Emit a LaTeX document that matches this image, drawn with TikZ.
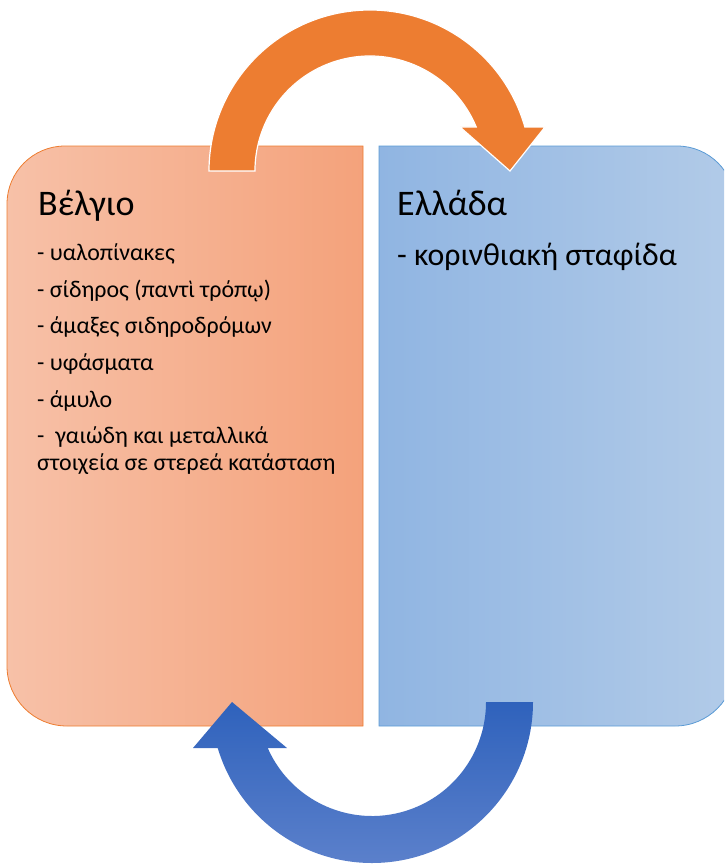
\documentclass[tikz,border=0pt]{standalone}
\usepackage{fontspec}
\setmainfont{Carlito}
\definecolor{boxorange}{HTML}{ED7D31}
\definecolor{orangeleft}{HTML}{F7C1A8}
\definecolor{orangeright}{HTML}{F4A27B}
\definecolor{boxblue}{HTML}{5B9BD5}
\definecolor{blueleft}{HTML}{90B5E2}
\definecolor{blueright}{HTML}{B2CBE8}
\definecolor{arrowblue}{HTML}{2F62BC}
\definecolor{arrowbluelight}{HTML}{5B80CB}

\begin{document}
\begin{tikzpicture}[x=1pt, y=-1pt,
    heading/.style={anchor=base west, inner sep=0pt, font=\fontsize{36}{43}\selectfont},
    item/.style={anchor=base west, inner sep=0pt, font=\fontsize{23.9}{27}\selectfont},
    bigitem/.style={anchor=base west, inner sep=0pt, font=\fontsize{31.8}{38}\selectfont}]
    \useasboundingbox (0,0) rectangle (724,864);
    \clip (0,0) rectangle (724,864);

    % the two panels
    \shade[left color=orangeleft, right color=orangeright, draw=boxorange, line width=0.8pt]
        (363,726) -- (363,146) -- (65,146)
        arc[start angle=270, end angle=180, radius=58] -- (7,666)
        arc[start angle=180, end angle=90, radius=60] -- cycle;
    \shade[left color=blueleft, right color=blueright, draw=boxblue, line width=0.8pt]
        (379,726) -- (379,146) -- (677,146)
        arc[start angle=270, end angle=360, radius=58] -- (735,666)
        arc[start angle=0, end angle=90, radius=60] -- cycle;

    % arrow from Belgium to Greece
    \filldraw[fill=boxorange, draw=white, line width=1.2pt]
        (209,171) arc[start angle=180, end angle=344.14, radius=161]
        -- (545,127) -- (510,171) -- (460,127) -- (476.2,127)
        arc[start angle=337.51, end angle=180, radius=115] -- cycle;

    % arrow from Greece back to Belgium
    \shade[top color=arrowblue, bottom color=arrowbluelight]
        (533,702) arc[start angle=0, end angle=163.4, radius=161]
        -- (193,748) -- (232,702) -- (287,748) -- (267.7,748)
        arc[start angle=156.2, end angle=0, radius=114] -- cycle;

    \node[heading] (belgio) at (38,215) {Βέλγιο};
    \node[item] (yalo) at (37,260) {- υαλοπίνακες};
    \node[item] (sidiros) at (37,297) {- σίδηρος (παντὶ τρόπῳ)};
    \node[item] (amaxes) at (37,333) {- άμαξες σιδηροδρόμων};
    \node[item] (yfasmata) at (37,370) {- υφάσματα};
    \node[item] (amylo) at (37,407) {- άμυλο};
    % base of a two-line node sits on its last line
    \node[item, align=left] (gaiodi) at (37,470) {-\ \ γαιώδη και μεταλλικά\\στοιχεία σε στερεά κατάσταση};

    \node[heading] (ellada) at (397,215) {Ελλάδα};
    \node[bigitem] (stafida) at (397,265) {- κορινθιακή σταφίδα};
\end{tikzpicture}
\end{document}
